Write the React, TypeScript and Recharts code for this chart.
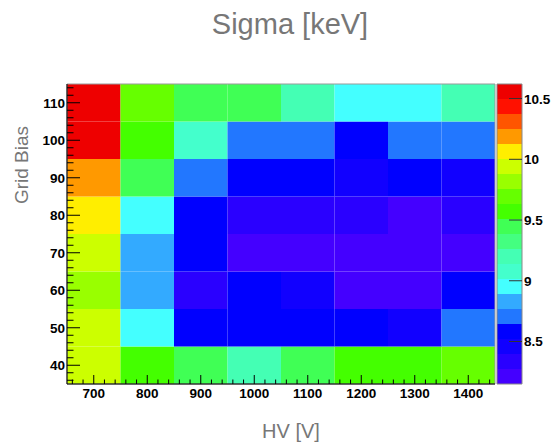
import React from 'react';
import { ScatterChart, Scatter, XAxis, YAxis, ReferenceArea } from 'recharts';

// bin centres
const hvValues = [700, 800, 900, 1000, 1100, 1200, 1300, 1400];
const gridBiasValues = [40, 50, 60, 70, 80, 90, 100, 110];

// sigma [keV] per grid bias row, ordered by HV
const sigma40 = [9.93, 9.57, 9.45, 9.2, 9.44, 9.56, 9.58, 9.69];
const sigma50 = [9.95, 8.96, 8.57, 8.58, 8.57, 8.55, 8.47, 8.72];
const sigma60 = [9.82, 8.84, 8.33, 8.56, 8.45, 8.21, 8.2, 8.58];
const sigma70 = [9.94, 8.83, 8.56, 8.21, 8.2, 8.19, 8.15, 8.22];
const sigma80 = [10.06, 8.95, 8.57, 8.34, 8.33, 8.35, 8.22, 8.32];
const sigma90 = [10.19, 9.43, 8.71, 8.58, 8.57, 8.46, 8.6, 8.48];
const sigma100 = [10.62, 9.57, 9.08, 8.7, 8.72, 8.58, 8.71, 8.69];
const sigma110 = [10.55, 9.7, 9.44, 9.46, 9.21, 8.95, 8.96, 9.19];
const sigmaRows = [sigma40, sigma50, sigma60, sigma70, sigma80, sigma90, sigma100, sigma110];

const colorbarTicks = [8.5, 9, 9.5, 10, 10.5];

// ROOT-like rainbow, 20 contour levels (low -> high)
const palette = [
  '#4400ff', '#2a00ff', '#1100ff', '#0000ff', '#2277ff',
  '#33aaff', '#44ffff', '#44ffcc', '#44ffb4', '#44ff80',
  '#40ff55', '#44ff00', '#66ff00', '#99ff00', '#ccff00',
  '#ffee00', '#ff9900', '#ff5500', '#ff1100', '#ee0000',
];

const FONT = '"Liberation Sans", Arial, Helvetica, sans-serif';

const cells = gridBiasValues.flatMap((gb, r) =>
  hvValues.map((hv, c) => ({ hv, gb, sigma: sigmaRows[r][c] }))
);

const zMin = Math.min(...cells.map(c => c.sigma));
const zMax = Math.max(...cells.map(c => c.sigma));
const nLevels = palette.length;
const zStep = (zMax - zMin) / nLevels;

const colorFor = (v: number) => {
  const k = Math.min(nLevels - 1, Math.max(0, Math.floor((v - zMin) / zStep)));
  return palette[k];
};

// one entry per colour level of the scale
const levels = palette.map((color, k) => ({
  x: 0.5,
  lo: zMin + k * zStep,
  hi: zMin + (k + 1) * zStep,
  z: zMin + (k + 0.5) * zStep,
  color,
}));

const hvHalf = (hvValues[1] - hvValues[0]) / 2;
const gbHalf = (gridBiasValues[1] - gridBiasValues[0]) / 2;
const xDomain = [hvValues[0] - hvHalf, hvValues[hvValues.length - 1] + hvHalf];
const yDomain = [gridBiasValues[0] - gbHalf, gridBiasValues[gridBiasValues.length - 1] + gbHalf];

// minor ticks every 20 V / 2 V, majors are the labelled ones
const xTicks: number[] = [];
for (let v = xDomain[0] + 10; v < xDomain[1]; v += 20) xTicks.push(v);
const yTicks: number[] = [];
for (let v = yDomain[0] + 1; v < yDomain[1]; v += 2) yTicks.push(v);

const XTick = ({ x, y, payload }: any) => {
  const major = hvValues.includes(payload.value);
  return (
    <g>
      <line x1={x} y1={y} x2={x} y2={y - (major ? 9 : 4.5)} stroke="#000" strokeWidth={1} />
      {major && (
        <text x={x} y={y + 14} textAnchor="middle" fontSize={13.5} fontWeight="bold" fontFamily={FONT} fill="#000">
          {payload.value}
        </text>
      )}
    </g>
  );
};

const YTick = ({ x, y, payload }: any) => {
  const major = gridBiasValues.includes(payload.value);
  return (
    <g>
      <line x1={x} y1={y} x2={x + (major ? 13 : 6.5)} y2={y} stroke="#000" strokeWidth={1} />
      {major && (
        <text x={x - 2} y={y + 5} textAnchor="end" fontSize={13.5} fontWeight="bold" fontFamily={FONT} fill="#000">
          {payload.value}
        </text>
      )}
    </g>
  );
};

const ZTick = ({ x, y, payload }: any) => (
  <g>
    <line x1={x} y1={y} x2={x - 13} y2={y} stroke="#333" strokeWidth={1} />
    <text x={x + 2} y={y + 5} textAnchor="start" fontSize={13.5} fontWeight="bold" fontFamily={FONT} fill="#000">
      {payload.value}
    </text>
  </g>
);

const App: React.FC = () => {
  return (
    <div style={{ position: 'absolute', left: 0, top: 0, width: 553, height: 445, background: '#fff' }}>
      <div style={{ position: 'absolute', left: 0, top: 0 }}>
        <ScatterChart width={553} height={445} margin={{ top: 84, right: 58, bottom: 31, left: 0 }}>
          {cells.map(c => (
            <ReferenceArea
              key={`${c.hv}-${c.gb}`}
              x1={c.hv - hvHalf}
              x2={c.hv + hvHalf}
              y1={c.gb - gbHalf}
              y2={c.gb + gbHalf}
              fill={colorFor(c.sigma)}
              fillOpacity={1}
              stroke="none"
              ifOverflow="visible"
            />
          ))}
          <ReferenceArea
            x1={xDomain[0]}
            x2={xDomain[1]}
            y1={yDomain[0]}
            y2={yDomain[1]}
            fill="none"
            stroke="#999"
            strokeWidth={1}
            ifOverflow="visible"
          />
          <XAxis
            type="number"
            dataKey="hv"
            domain={xDomain}
            ticks={xTicks}
            interval={0}
            tick={<XTick />}
            tickLine={false}
            tickSize={0}
            tickMargin={0}
            height={30}
            axisLine={{ stroke: '#000' }}
            allowDataOverflow
          />
          <YAxis
            type="number"
            dataKey="gb"
            domain={yDomain}
            ticks={yTicks}
            interval={0}
            tick={<YTick />}
            tickLine={false}
            tickSize={0}
            tickMargin={0}
            width={67}
            axisLine={{ stroke: '#000' }}
            allowDataOverflow
          />
          <Scatter data={cells} isAnimationActive={false} shape={() => <g />} />
        </ScatterChart>
      </div>

      {/* colour scale */}
      <div style={{ position: 'absolute', left: 0, top: 0 }}>
        <ScatterChart width={553} height={445} margin={{ top: 84, right: 0, bottom: 61, left: 497 }}>
          {levels.map(l => (
            <ReferenceArea
              key={l.color + l.lo}
              x1={0}
              x2={1}
              y1={l.lo}
              y2={l.hi}
              fill={l.color}
              fillOpacity={1}
              stroke="none"
              ifOverflow="visible"
            />
          ))}
          <ReferenceArea x1={0} x2={1} y1={zMin} y2={zMax} fill="none" stroke="#888" ifOverflow="visible" />
          <XAxis type="number" dataKey="x" domain={[0, 1]} hide allowDataOverflow />
          <YAxis
            orientation="right"
            type="number"
            dataKey="z"
            domain={[zMin, zMax]}
            ticks={colorbarTicks}
            interval={0}
            tick={<ZTick />}
            tickLine={false}
            tickSize={0}
            tickMargin={0}
            width={31}
            axisLine={false}
            allowDataOverflow
          />
          <Scatter data={levels} isAnimationActive={false} shape={() => <g />} />
        </ScatterChart>
      </div>

      <svg width={553} height={445} style={{ position: 'absolute', left: 0, top: 0, pointerEvents: 'none' }}>
        <text x={290} y={34} textAnchor="middle" fontSize={29} fontFamily={FONT} fill="#777">
          Sigma [keV]
        </text>
        <text x={291} y={438} textAnchor="middle" fontSize={20} fontFamily={FONT} fill="#777">
          HV [V]
        </text>
        <text x={28} y={165} textAnchor="middle" fontSize={19} fontFamily={FONT} fill="#777" transform="rotate(-90, 28, 165)">
          Grid Bias
        </text>
      </svg>
    </div>
  );
};

export default App;
